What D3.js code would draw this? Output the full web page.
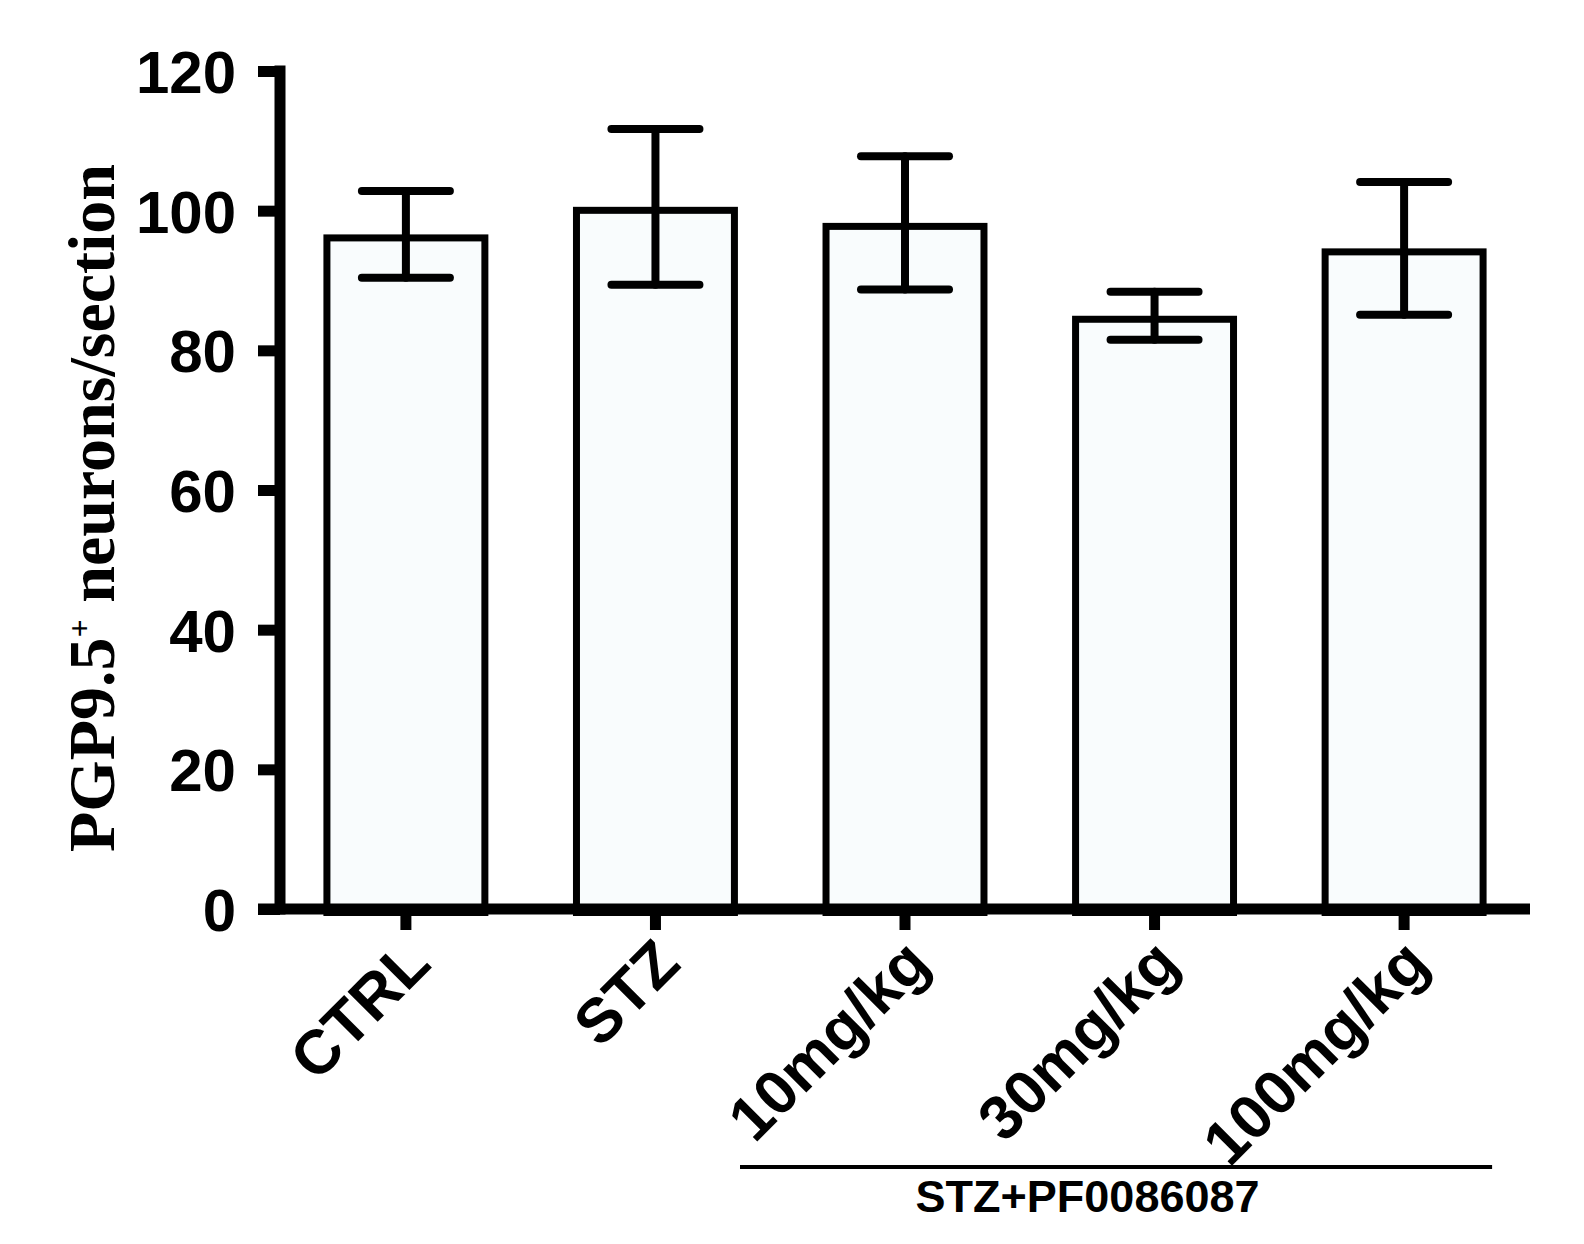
<!DOCTYPE html>
<html lang="en">
<head>
	<meta charset="utf-8">
	<title>PGP9.5 neurons</title>
	<script src="https://d3js.org/d3.v7.min.js"></script>
	<style>
	body { margin: 0; background: #fff; }
	.axis path, .axis line {
		stroke: #000;
		stroke-width: 11px;
	}
	.axis text {
		font-family: "Liberation Sans", Arial, sans-serif;
		font-weight: bold;
		fill: #000;
	}
	.bar {
		fill: #f9fcfd;
		stroke: #000;
		stroke-width: 7px;
	}
	.err {
		stroke: #000;
		stroke-width: 8px;
		stroke-linecap: round;
	}
	</style>
</head>
<body>
	<script>
		// data
		var groups = ["CTRL", "STZ", "10mg/kg", "30mg/kg", "100mg/kg"];
		var means = [96.6, 100.55, 98.25, 84.95, 94.6];
		var errs = [6.2, 11.15, 9.55, 3.45, 9.5];
		var yTicks = [0, 20, 40, 60, 80, 100, 120];
		var groupLabel = "STZ+PF0086087";
		var groupSpan = ["10mg/kg", "100mg/kg"];

		var w = 1584;
		var h = 1244;

		var svg = d3.select("body")
					.append("svg")
					.attr("width", w)
					.attr("height", h);

		var x = d3.scaleBand()
				  .domain(groups)
				  .range([280, 1530])
				  .paddingInner(0.339)
				  .paddingOuter(0.174);

		var y = d3.scaleLinear()
				  .domain([0, 120])
				  .range([909, 71]);

		var sw = 7; // bar outline is drawn inside the box

		// bars
		svg.selectAll("rect.bar")
			.data(groups)
			.enter().append("rect")
			.attr("class", "bar")
			.attr("x", function(d) { return x(d) + sw / 2; })
			.attr("y", function(d, i) { return y(means[i]) + sw / 2; })
			.attr("width", x.bandwidth() - sw)
			.attr("height", function(d, i) { return y(0) - y(means[i]); });

		// error bars
		var capW = 88;
		var eb = svg.selectAll("g.eb")
			.data(groups)
			.enter().append("g")
			.attr("class", "eb");

		eb.append("line")
			.attr("class", "err")
			.attr("x1", function(d) { return x(d) + x.bandwidth() / 2; })
			.attr("x2", function(d) { return x(d) + x.bandwidth() / 2; })
			.attr("y1", function(d, i) { return y(means[i] + errs[i]); })
			.attr("y2", function(d, i) { return y(means[i] - errs[i]); });

		[1, -1].forEach(function(s) {
			eb.append("line")
				.attr("class", "err")
				.attr("x1", function(d) { return x(d) + x.bandwidth() / 2 - capW / 2; })
				.attr("x2", function(d) { return x(d) + x.bandwidth() / 2 + capW / 2; })
				.attr("y1", function(d, i) { return y(means[i] + s * errs[i]); })
				.attr("y2", function(d, i) { return y(means[i] + s * errs[i]); });
		});

		// y axis
		var yAxis = svg.append("g")
			.attr("class", "axis")
			.attr("transform", "translate(280,0)")
			.call(d3.axisLeft(y).tickValues(yTicks).tickSize(22).tickSizeOuter(0).tickPadding(22));
		yAxis.select(".domain").attr("d", "M0," + (y(120) - 5.5) + "V" + (y(0) + 5.5));
		yAxis.selectAll(".tick text")
			.attr("font-size", 60)
			.attr("dy", "0.36em");

		// x axis
		var xAxis = svg.append("g")
			.attr("class", "axis")
			.attr("transform", "translate(0," + y(0) + ")")
			.call(d3.axisBottom(x).tickSize(21).tickSizeOuter(0));
		xAxis.select(".domain").attr("d", "M258,0H1530");
		xAxis.selectAll(".tick text")
			.attr("font-size", 62)
			.attr("text-anchor", "end")
			.attr("x", 12)
			.attr("y", 42)
			.attr("dy", "0.35em")
			.attr("transform", "rotate(-45, 12, 42)");

		// y axis title
		var yt = svg.append("text")
			.attr("transform", "translate(114,508) rotate(-90)")
			.attr("text-anchor", "middle")
			.style("font-family", "'Liberation Serif', 'Times New Roman', serif")
			.style("font-weight", "bold")
			.style("font-size", "66px");
		yt.append("tspan").text("PGP9.5");
		yt.append("tspan").attr("dy", -24).style("font-size", "32px").text("+");
		yt.append("tspan").attr("dy", 24).text(" neurons/section");

		// group bracket under the PF0086087 doses
		var gx0 = x(groupSpan[0]) + x.bandwidth() / 2 - 165;
		var gx1 = x(groupSpan[1]) + x.bandwidth() / 2 + 88;
		svg.append("line")
			.attr("x1", gx0)
			.attr("x2", gx1)
			.attr("y1", 1167)
			.attr("y2", 1167)
			.style("stroke", "#000")
			.style("stroke-width", 4);

		svg.append("text")
			.attr("x", (x(groupSpan[0]) + x(groupSpan[1]) + x.bandwidth()) / 2 - 67)
			.attr("y", 1212)
			.attr("text-anchor", "middle")
			.style("font-family", "'Liberation Sans', Arial, sans-serif")
			.style("font-weight", "bold")
			.style("font-size", "45px")
			.text(groupLabel);
	</script>
</body>
</html>
